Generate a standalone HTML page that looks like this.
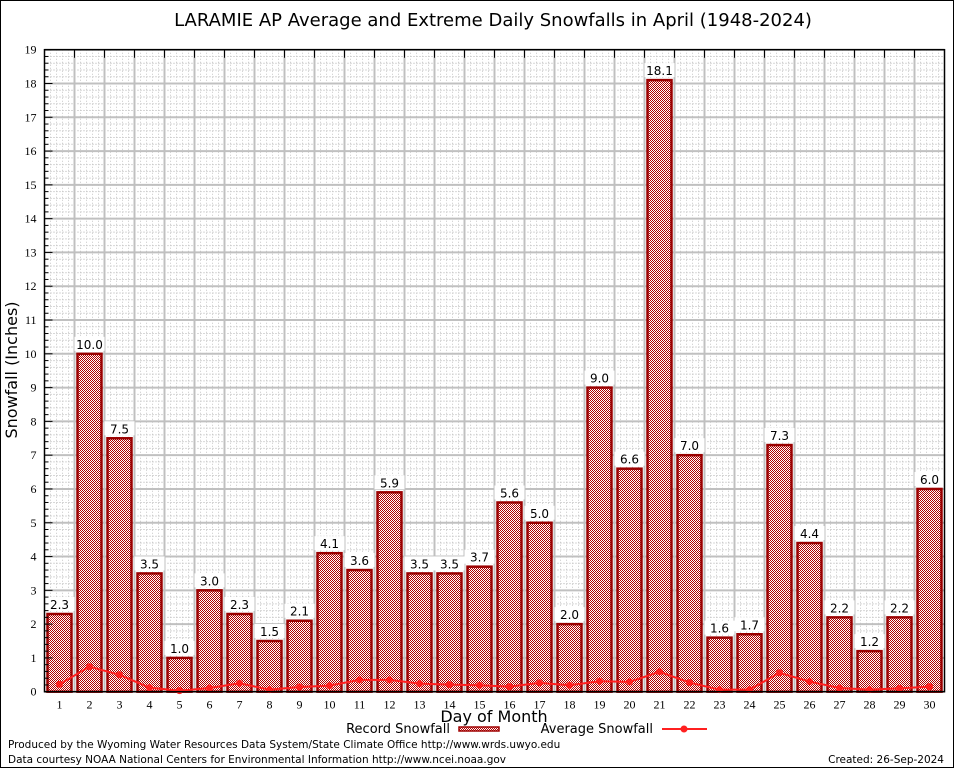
<!DOCTYPE html>
<html><head><meta charset="utf-8"><style>
body{margin:0;background:#fff;}
svg{display:block;font-family:"DejaVu Sans","Liberation Sans",sans-serif;}
</style></head><body>
<svg id="chart" width="954" height="768">
<defs>
<pattern id="chk" width="2" height="2" patternUnits="userSpaceOnUse">
<rect width="2" height="2" fill="#fff"/><rect width="1" height="1" fill="#b00000"/><rect x="1" y="1" width="1" height="1" fill="#b00000"/>
</pattern>
</defs>
<rect x="0.5" y="0.5" width="953" height="767" fill="#fff" stroke="#000"/>
<text x="493" y="26" font-size="18" text-anchor="middle">LARAMIE AP Average and Extreme Daily Snowfalls in April (1948-2024)</text>
<g id="grid"></g><g id="bars"></g><g id="line"></g><g id="axes"></g>
<text transform="translate(17,370) rotate(-90)" font-size="16" text-anchor="middle">Snowfall (Inches)</text>
<text x="494" y="722" font-size="16" text-anchor="middle">Day of Month</text>
<g font-size="13">
<text x="450" y="733" text-anchor="end">Record Snowfall</text>
<rect x="459" y="727" width="40" height="4" fill="url(#chk)" stroke="#a00000" stroke-width="1.5"/>
<text x="653" y="733" text-anchor="end">Average Snowfall</text>
<line x1="662" y1="729" x2="707" y2="729" stroke="#ff2020" stroke-width="2"/>
<circle cx="684" cy="729" r="3.5" fill="#ff2020"/>
</g>
<text x="8" y="748" font-size="10.5">Produced by the Wyoming Water Resources Data System/State Climate Office http://www.wrds.uwyo.edu</text>
<text x="8" y="763" font-size="10.5">Data courtesy NOAA National Centers for Environmental Information http://www.ncei.noaa.gov</text>
<text x="944" y="763" font-size="10.5" text-anchor="end">Created: 26-Sep-2024</text>
</svg>
<script>
const days = [1,2,3,4,5,6,7,8,9,10,11,12,13,14,15,16,17,18,19,20,21,22,23,24,25,26,27,28,29,30];
const recordSnow = [2.3,10.0,7.5,3.5,1.0,3.0,2.3,1.5,2.1,4.1,3.6,5.9,3.5,3.5,3.7,5.6,5.0,2.0,9.0,6.6,18.1,7.0,1.6,1.7,7.3,4.4,2.2,1.2,2.2,6.0];
const avgSnow = [0.22,0.74,0.5,0.12,0.03,0.11,0.25,0.06,0.14,0.18,0.35,0.35,0.24,0.21,0.19,0.15,0.26,0.19,0.31,0.29,0.59,0.27,0.06,0.06,0.56,0.3,0.11,0.06,0.1,0.15];
const yTicks = [0,1,2,3,4,5,6,7,8,9,10,11,12,13,14,15,16,17,18,19];

const L=44.5,R=944.5,T=49.7,B=691.7,YMAX=19;
const xs=d=>L+15+(d-1)*30;
const ys=v=>B-(v/YMAX)*(B-T);
const NS="http://www.w3.org/2000/svg";
function mk(tag,attrs,parent){const e=document.createElementNS(NS,tag);for(const k in attrs)e.setAttribute(k,attrs[k]);parent.appendChild(e);return e;}
const grid=document.getElementById('grid'),bars=document.getElementById('bars'),line=document.getElementById('line'),axes=document.getElementById('axes');
mk('rect',{x:L,y:T,width:R-L,height:B-T,fill:'#fff'},grid);
for(let v=0.2;v<YMAX;v+=0.2){const y=ys(v);mk('line',{x1:L,x2:R,y1:y,y2:y,stroke:'#b0b0b0','stroke-width':1,'stroke-dasharray':'1,2'},grid);}
for(let x=L+6;x<R;x+=6){mk('line',{x1:x,x2:x,y1:T,y2:B,stroke:'#c8c8c8','stroke-width':1,'stroke-dasharray':'1,2'},grid);}
yTicks.forEach(v=>{const y=ys(v);
const g=mk('line',{x1:L,x2:R,y1:y,y2:y,stroke:'#c0c0c0','stroke-width':2},grid);


const t=mk('text',{x:L-8,y:y+4,'font-size':12,'text-anchor':'end','font-family':'Liberation Serif, serif'},axes);t.textContent=v;


mk('line',{x1:L,x2:L+8,y1:y,y2:y,stroke:'#000','stroke-width':1},axes);
for(let k=1;k<5&&v<YMAX;k++){const yy=ys(v+k*0.2);mk('line',{x1:L,x2:L+4,y1:yy,y2:yy,stroke:'#000'},axes);}
});
days.forEach((d,i)=>{const xb=L+i*30;
if(i>0)mk('line',{x1:xb,x2:xb,y1:T,y2:B,stroke:'#c0c0c0','stroke-width':2},grid);
mk('line',{x1:xb,x2:xb,y1:T,y2:T+8,stroke:'#000'},axes);
const v=recordSnow[i],x=xs(d),y=ys(v);
const r=mk('rect',{x:x-12,y:y,width:24,height:B-y,fill:'url(#chk)',stroke:'#9a0000','stroke-width':2.5},bars);


mk('rect',{x:x-15,y:y-17,width:30,height:14,fill:'#fff'},bars);
const lt=mk('text',{x:x,y:y-5,'font-size':12,'text-anchor':'middle'},bars);lt.textContent=v.toFixed(1);


const xt=mk('text',{x:x,y:B+17,'font-size':12,'text-anchor':'middle','font-family':'Liberation Serif, serif'},axes);xt.textContent=d;


});
const pts=days.map((d,i)=>xs(d)+','+ys(avgSnow[i])).join(' ');
const pl=mk('polyline',{points:pts,fill:'none',stroke:'#ff2020','stroke-width':2},line);


days.forEach((d,i)=>{const c=mk('circle',{cx:xs(d),cy:ys(avgSnow[i]),r:3.5,fill:'#ff2020'},line);

});
const fr=mk('rect',{x:L,y:T,width:R-L,height:B-T,fill:'none',stroke:'#000','stroke-width':1.5},axes);


</script>
</body></html>
